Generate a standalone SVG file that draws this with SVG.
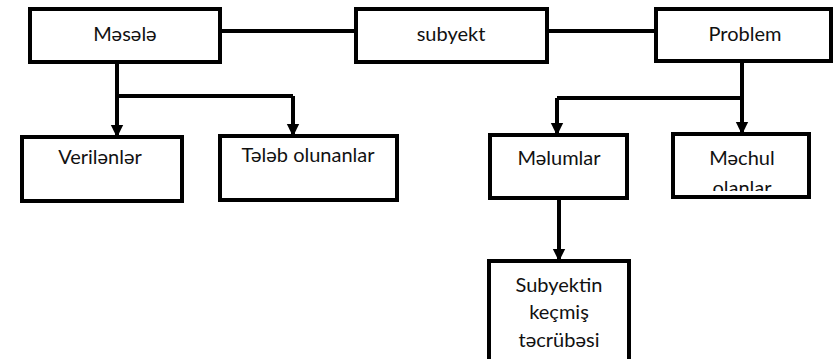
<svg xmlns="http://www.w3.org/2000/svg" width="839" height="359" viewBox="0 0 839 359">
<style>
.box{fill:#fff;stroke:#000;stroke-width:4}
.t{font-family:Lato,"Open Sans",sans-serif;font-size:20px;fill:#111;text-anchor:middle;dominant-baseline:central}
.ln{fill:none;stroke:#000;stroke-width:4}
</style>
<defs>
<marker id="ah" markerWidth="4" markerHeight="4" refX="2.6" refY="2" orient="auto" markerUnits="strokeWidth" viewBox="0 0 4 4">
<path d="M0,0.4 L3.2,2 L0,3.6 Z" fill="#000"/>
</marker>
<clipPath id="mc"><rect x="674" y="135" width="134" height="56"/></clipPath>
</defs>
<rect width="839" height="359" fill="#fff"/>
<g id="connectors">
<path class="ln" d="M221,31 H355"/>
<path class="ln" d="M548,31 H655"/>
<path class="ln" d="M117,63 V96 H293"/>
<path class="ln" d="M117,96 V135" marker-end="url(#ah)"/>
<path class="ln" d="M293,96 V134" marker-end="url(#ah)"/>
<path class="ln" d="M742,62 V98 H557"/>
<path class="ln" d="M557,98 V133" marker-end="url(#ah)"/>
<path class="ln" d="M742,98 V132" marker-end="url(#ah)"/>
<path class="ln" d="M559,199 V259" marker-end="url(#ah)"/>
</g>
<g id="masala"><rect class="box" x="30" y="9" width="190" height="53"/><text class="t" x="125" y="33">Məsələ</text></g>
<g id="subyekt"><rect class="box" x="356" y="9" width="191" height="53"/><text class="t" x="451" y="33">subyekt</text></g>
<g id="problem"><rect class="box" x="656" y="9" width="175" height="52"/><text class="t" x="745" y="33">Problem</text></g>
<g id="verilenler"><rect class="box" x="22" y="137" width="160" height="64"/><text class="t" x="100" y="156">Verilənlər</text></g>
<g id="teleb"><rect class="box" x="220" y="136" width="177" height="64"/><text class="t" x="308" y="154">Tələb olunanlar</text></g>
<g id="melumlar"><rect class="box" x="490" y="135" width="137" height="63"/><text class="t" x="559" y="157">Məlumlar</text></g>
<g id="mechul"><rect class="box" x="673" y="134" width="136" height="63"/><text class="t" x="742" y="157">Məchul</text><text class="t" x="742" y="187" clip-path="url(#mc)">olanlar</text></g>
<g id="subyektin"><rect class="box" x="489" y="261" width="140" height="110"/><text class="t" x="559" y="284">Subyektin</text><text class="t" x="559" y="311">keçmiş</text><text class="t" x="559" y="339">təcrübəsi</text></g>
</svg>
